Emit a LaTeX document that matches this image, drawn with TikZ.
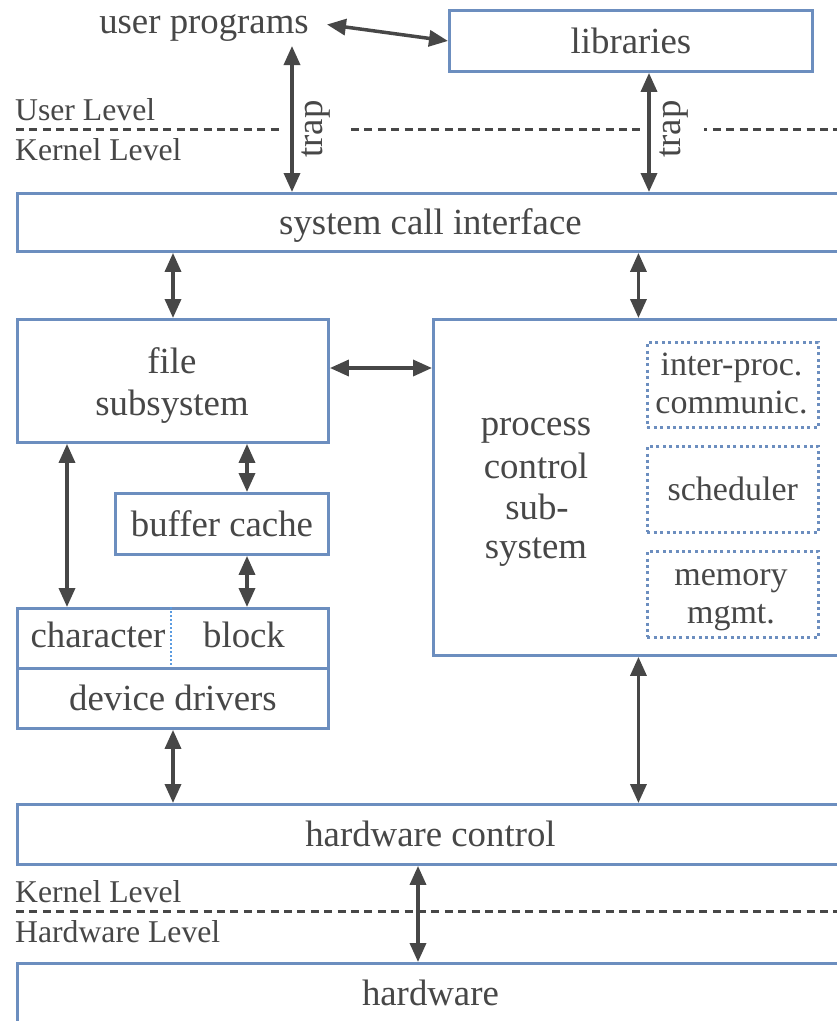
\documentclass[tikz,border=0pt]{standalone}
\usepackage{fontspec}
\setmainfont{Liberation Serif}
\usetikzlibrary{arrows.meta}

\definecolor{edge}{HTML}{6C8EBF}
\definecolor{ink}{HTML}{474747}
\definecolor{divider}{HTML}{5A9BE0}

\tikzset{
  bigfont/.style={font=\fontsize{36.8}{41}\selectfont},
  smallfont/.style={font=\fontsize{34}{38}\selectfont},
  levelfont/.style={font=\fontsize{31.7}{36}\selectfont},
  box/.style={draw=edge, line width=2.9pt, rectangle, inner sep=0pt,
    anchor=north west, text=ink, bigfont,
    text height=27.6pt, text depth=2.6pt},
  subbox/.style={box, draw=edge, line width=2.6pt,
    dash pattern=on 3pt off 3.4pt, smallfont,
    text height=25.5pt, text depth=2.4pt},
  lbl/.style={text=ink, inner sep=0pt, anchor=base},
  level/.style={lbl, anchor=base west, levelfont},
  traplabel/.style={text=ink, bigfont, fill=white, rotate=90,
    inner xsep=4pt, inner ysep=15.5pt, text height=25pt, text depth=8pt},
  biarrow/.style={draw=ink, line width=3.5pt,
    {Triangle[length=19pt,width=16pt]}-{Triangle[length=19pt,width=16pt]}},
  levelline/.style={draw=ink, line width=3pt, dash pattern=on 8pt off 5.4pt},
  splitline/.style={draw=divider, line width=2pt, dash pattern=on 2pt off 2pt}
}

\begin{document}
\begin{tikzpicture}[x=1pt, y=-1pt]
\clip (0,0) rectangle (837,1021);
\fill[white] (0,0) rectangle (837,1021);

% level boundaries
\draw[levelline] (16,129) -- (840,129);
\draw[levelline] (16,911) -- (840,911);
\node[level] (ul) at (15,120) {User Level};
\node[level] (kl1) at (15,160) {Kernel Level};
\node[level] (kl2) at (15,902) {Kernel Level};
\node[level] (hl) at (15,942) {Hardware Level};

% trap labels, blanking the boundary behind them
\node[traplabel] (trapL) at (314,129) {trap};
\node[traplabel] (trapR) at (672,129) {trap};

% user space
\node[text=ink, bigfont, inner xsep=18pt, inner ysep=0pt,
      text height=25pt, text depth=8pt] (up) at (204,24.5) {user programs};
\node[box, minimum width=363pt, minimum height=61pt] (lib) at (448,9) {libraries};

% kernel
\node[box, minimum width=826pt, minimum height=58pt] (sci) at (16,192) {system call interface};

\node[box, minimum width=311pt, minimum height=123pt] (fs) at (16,318) {};
\node[lbl, bigfont] (fs1) at (172,373) {file};
\node[lbl, bigfont] (fs2) at (172,415) {subsystem};

\node[box, minimum width=410pt, minimum height=336pt] (pcs) at (432,318) {};
\node[lbl, bigfont] (pc1) at (536,435) {process};
\node[lbl, bigfont] (pc2) at (536,478) {control};
\node[lbl, bigfont] (pc3) at (537,519) {sub-};
\node[lbl, bigfont] (pc4) at (536,558) {system};

\node[subbox, minimum width=171pt, minimum height=85pt] (ipc) at (646,341) {};
\node[lbl, smallfont] (ipc1) at (731.5,375) {inter-proc.};
\node[lbl, smallfont] (ipc2) at (731.5,413) {communic.};
\node[subbox, minimum width=171pt, minimum height=86pt] (sched) at (646,445) {scheduler};
\node[subbox, minimum width=171pt, minimum height=86pt] (mem) at (646,550) {};
\node[lbl, smallfont] (mem1) at (731,585) {memory};
\node[lbl, smallfont] (mem2) at (731,623) {mgmt.};

\node[box, minimum width=213pt, minimum height=61pt] (bc) at (114,492) {buffer cache};

\node[box, minimum width=311pt, minimum height=60pt] (devrow) at (16,607) {};
\node[lbl, bigfont] (chr) at (98,647) {character};
\node[lbl, bigfont] (blk) at (244,647) {block};
\coordinate (splitx) at (171,0);
\draw[splitline] (splitx |- devrow.north) -- (splitx |- devrow.south);
\node[box, minimum width=311pt, minimum height=60pt] (dd) at (16,667) {device drivers};

\node[box, minimum width=826pt, minimum height=60pt] (hwc) at (16,803) {hardware control};

% hardware
\node[box, minimum width=826pt, minimum height=60pt] (hw) at (16,962) {hardware};

% connectors
\coordinate (upfoot) at (292,46);
\coordinate (xlib) at (649,0);
\coordinate (xfs) at (173,0);
\coordinate (xchr) at (67,0);
\coordinate (xbc) at (247,0);
\coordinate (xhw) at (418,0);
\coordinate (ylink) at (0,368);

\draw[biarrow] (up.east) -- (lib.west);
\draw[biarrow] (upfoot) -- (upfoot |- sci.north);
\draw[biarrow] (xlib |- lib.south) -- (xlib |- sci.north);
\draw[biarrow] (xfs |- sci.south) -- (xfs |- fs.north);
\draw[biarrow] (pcs.north |- sci.south) -- (pcs.north);
\draw[biarrow] (fs.east |- ylink) -- (pcs.west |- ylink);
\draw[biarrow] (xchr |- fs.south) -- (xchr |- devrow.north);
\draw[biarrow] (xbc |- fs.south) -- (xbc |- bc.north);
\draw[biarrow] (xbc |- bc.south) -- (xbc |- devrow.north);
\draw[biarrow] (xfs |- dd.south) -- (xfs |- hwc.north);
\draw[biarrow] (pcs.south) -- (pcs.south |- hwc.north);
\draw[biarrow] (xhw |- hwc.south) -- (xhw |- hw.north);
\end{tikzpicture}
\end{document}
